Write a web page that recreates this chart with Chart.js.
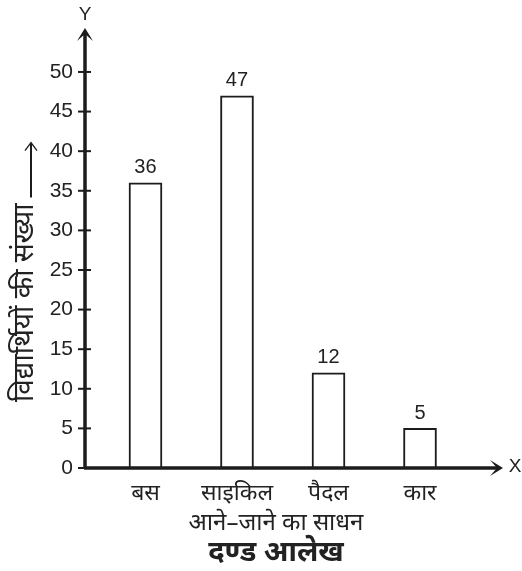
<!DOCTYPE html>
<html>
<head>
<meta charset="utf-8">
<script src="https://cdn.jsdelivr.net/npm/chart.js@4.4.1/dist/chart.umd.min.js"></script>
<style>
  html, body { margin: 0; padding: 0; background: #fff; }
  #wrap { width: 522px; height: 571px; }
</style>
</head>
<body>
<div id="wrap"><canvas id="barChart"></canvas></div>
<script>
// Chart data
const categories = ["बस", "साइकिल", "पैदल", "कार"];
const studentCounts = [36, 47, 12, 5];
const yTicks = [0, 5, 10, 15, 20, 25, 30, 35, 40, 45, 50];
const yAxisTitle = "विद्यार्थियों की संख्या";
const xAxisTitle = "आने–जाने का साधन";
const chartTitle = "दण्ड आलेख";

const INK = "#1c1c1c";
const TEXT = "#222";
const LATIN = "'Liberation Sans', Arial, sans-serif";
const DEVA = "'Noto Sans', 'Noto Sans Devanagari', sans-serif";

// Draw a barbed arrowhead pointing in direction (dx, dy)
function arrowHead(ctx, x, y, dx, dy) {
  const len = 13, half = 8, notch = 6;
  const px = -dy, py = dx;
  ctx.beginPath();
  ctx.moveTo(x, y);
  ctx.lineTo(x - dx * len + px * half, y - dy * len + py * half);
  ctx.lineTo(x - dx * notch, y - dy * notch);
  ctx.lineTo(x - dx * len - px * half, y - dy * len - py * half);
  ctx.closePath();
  ctx.fill();
}

// Axes, arrows, tick marks, value labels and titles
const decorations = {
  id: "decorations",
  afterDraw(chart) {
    const ctx = chart.ctx;
    const area = chart.chartArea;
    const yScale = chart.scales.y;
    const ox = area.left;
    const oy = yScale.getPixelForValue(0);

    ctx.save();
    ctx.strokeStyle = INK;
    ctx.fillStyle = INK;

    // tick marks crossing the y axis
    ctx.lineWidth = 2;
    yTicks.forEach((v) => {
      const y = yScale.getPixelForValue(v);
      ctx.beginPath();
      ctx.moveTo(ox - 7, y);
      ctx.lineTo(ox + 6, y);
      ctx.stroke();
    });

    // axis lines
    ctx.lineWidth = 3.5;
    ctx.beginPath();
    ctx.moveTo(ox, oy + 1);
    ctx.lineTo(ox, area.top + 6);
    ctx.moveTo(ox - 1, oy);
    ctx.lineTo(area.right - 6, oy);
    ctx.stroke();
    arrowHead(ctx, ox, area.top, 0, -1);
    arrowHead(ctx, area.right, oy, 1, 0);

    ctx.fillStyle = TEXT;
    ctx.textAlign = "center";
    ctx.textBaseline = "middle";
    ctx.font = "19px " + LATIN;
    ctx.fillText("Y", ox, area.top - 13);
    ctx.fillText("X", area.right + 12, oy - 1);

    // value labels above bars
    ctx.font = "20px " + LATIN;
    chart.getDatasetMeta(0).data.forEach((bar, i) => {
      ctx.fillText(String(studentCounts[i]), bar.x, bar.y - 15);
    });

    // x axis title and chart title
    const midX = 276;
    ctx.font = "24px " + DEVA;
    ctx.fillText(xAxisTitle, midX, 523);
    ctx.font = "bold 29px " + DEVA;
    ctx.fillText(chartTitle, midX, 553);

    // rotated y axis title with arrow
    ctx.translate(25, 402);
    ctx.rotate(-Math.PI / 2);
    ctx.font = "28px " + DEVA;
    ctx.textAlign = "left";
    ctx.fillText(yAxisTitle, 0, 0);
    const end = ctx.measureText(yAxisTitle).width + 6;
    ctx.strokeStyle = INK;
    ctx.lineWidth = 2;
    ctx.beginPath();
    ctx.moveTo(end, 6);
    ctx.lineTo(end + 54, 6);
    ctx.stroke();
    ctx.lineWidth = 1.3;
    ctx.beginPath();
    ctx.moveTo(end + 47, 0);
    ctx.lineTo(end + 55, 6);
    ctx.lineTo(end + 47, 12);
    ctx.stroke();
    ctx.restore();
  },
};

const ctx = document.getElementById("barChart").getContext("2d");

new Chart(ctx, {
  type: "bar",
  data: {
    datasets: [
      {
        data: studentCounts.map((v, i) => ({ x: i, y: v })),
        backgroundColor: "#ffffff",
        borderColor: INK,
        borderWidth: 2,
        borderSkipped: "bottom",
        barThickness: 33,
      },
    ],
  },
  options: {
    responsive: true,
    maintainAspectRatio: false,
    animation: false,
    events: [],
    layout: { padding: { top: 28, right: 19, left: 0, bottom: 0 } },
    plugins: {
      legend: { display: false },
      tooltip: { enabled: false },
    },
    scales: {
      x: {
        type: "linear",
        offset: false,
        min: -0.661,
        max: 3.907,
        grid: { display: false, offset: false },
        border: { display: false },
        afterBuildTicks: (scale) => {
          scale.ticks = categories.map((c, i) => ({ value: i }));
        },
        afterFit: (scale) => {
          scale.height = 103;
        },
        ticks: {
          autoSkip: false,
          maxRotation: 0,
          padding: 4,
          color: TEXT,
          font: { family: DEVA, size: 23 },
          callback: (value, index) => categories[index],
        },
      },
      y: {
        min: 0,
        max: 55.55,
        grid: { display: false, drawTicks: false },
        border: { display: false },
        afterBuildTicks: (scale) => {
          scale.ticks = yTicks.map((v) => ({ value: v }));
        },
        afterFit: (scale) => {
          scale.width = 85;
        },
        ticks: {
          padding: 12,
          color: TEXT,
          font: { family: LATIN, size: 21 },
        },
      },
    },
  },
  plugins: [decorations],
});
</script>
</body>
</html>
